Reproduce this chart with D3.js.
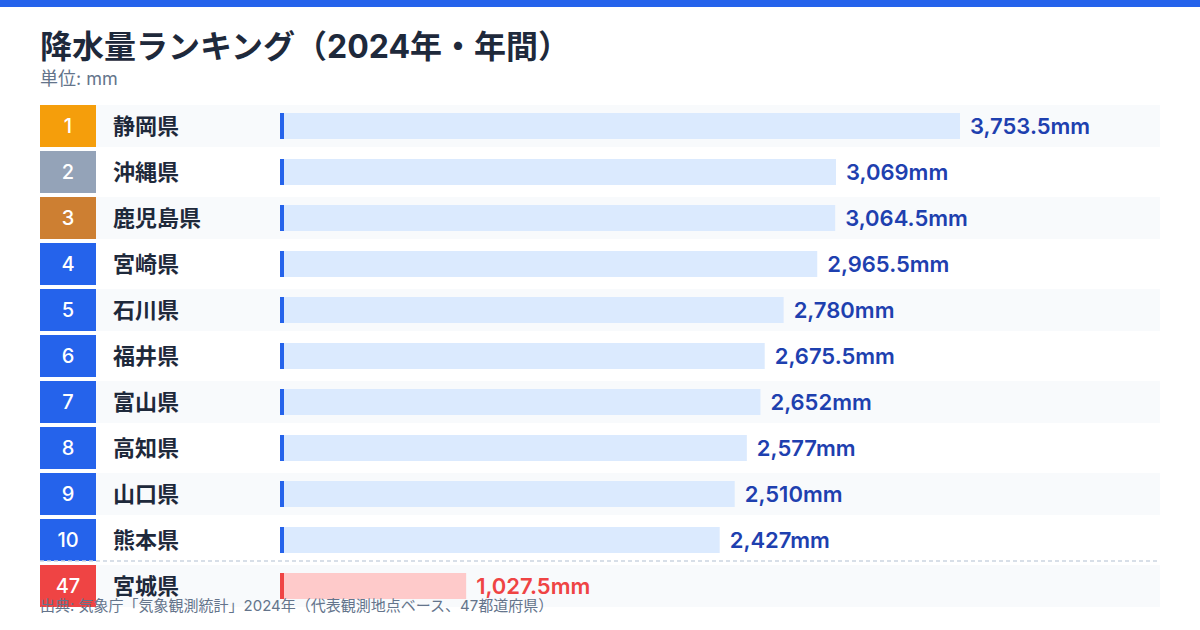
<!DOCTYPE html>
<html>
<head>
<meta charset="utf-8">
<script src="https://cdn.jsdelivr.net/npm/d3@7"></script>
<style>
  html, body { margin: 0; padding: 0; background: #fff; }
  svg { display: block; font-family: "Inter", "Noto Sans CJK JP", sans-serif; }
</style>
</head>
<body>
<svg width="1200" height="630"></svg>
<script>
// data
let ranks = ["1", "2", "3", "4", "5", "6", "7", "8", "9", "10", "47"];
let prefs = ["静岡県", "沖縄県", "鹿児島県", "宮崎県", "石川県", "福井県", "富山県", "高知県", "山口県", "熊本県", "宮城県"];
let values = [3753.5, 3069, 3064.5, 2965.5, 2780, 2675.5, 2652, 2577, 2510, 2427, 1027.5];
let rankColors = ["#f59e0b", "#94a3b8", "#cd7f32", "#2563eb", "#2563eb", "#2563eb", "#2563eb", "#2563eb", "#2563eb", "#2563eb", "#ef4444"];

let rows = ranks.map((r, i) => ({ rank: r, pref: prefs[i], value: values[i], color: rankColors[i], i: i }));

let svg = d3.select("svg");

svg.append("rect")
    .attr("x", 0).attr("y", 0)
    .attr("width", 1200).attr("height", 7)
    .style("fill", "#2563eb");

svg.append("text")
    .attr("x", 40).attr("y", 58)
    .text("降水量ランキング（2024年・年間）")
    .style("font-size", "32px")
    .style("font-weight", 700)
    .style("fill", "#1e293b");

svg.append("text")
    .attr("x", 40).attr("y", 85)
    .text("単位: mm")
    .style("font-size", "18px")
    .style("fill", "#64748b");

let y = d3.scaleBand()
    .domain(rows.map(d => d.i))
    .range([105, 607])
    .paddingInner(4 / 46);

let x = d3.scaleLinear()
    .domain([0, d3.max(values)])
    .range([280, 960]);

let row = svg.selectAll(".row")
    .data(rows)
    .join("g")
    .attr("class", "row")
    .attr("transform", d => "translate(0," + y(d.i) + ")");

let h = y.bandwidth();

row.append("rect")
    .attr("x", 40).attr("width", 1120)
    .attr("height", h)
    .style("fill", d => d.i % 2 == 0 ? "#f8fafc" : "#ffffff");

row.append("rect")
    .attr("x", 40).attr("width", 56)
    .attr("height", h)
    .style("fill", d => d.color);

row.append("text")
    .attr("x", 68).attr("y", h / 2)
    .attr("dy", "0.35em")
    .attr("text-anchor", "middle")
    .text(d => d.rank)
    .style("font-size", "20px")
    .style("font-weight", 500)
    .style("fill", "#fff");

row.append("text")
    .attr("x", 113).attr("y", h / 2)
    .attr("dy", "0.36em")
    .text(d => d.pref)
    .style("font-size", "22px")
    .style("font-weight", 700)
    .style("fill", "#1e293b");

let last = rows.length - 1;

row.append("rect")
    .attr("x", x(0))
    .attr("y", (h - 26) / 2)
    .attr("width", d => x(d.value) - x(0))
    .attr("height", 26)
    .style("fill", d => d.i == last ? "#fecaca" : "#dbeafe");

row.append("rect")
    .attr("x", x(0))
    .attr("y", (h - 26) / 2)
    .attr("width", 4)
    .attr("height", 26)
    .style("fill", d => d.i == last ? "#ef4444" : "#2563eb");

row.append("text")
    .attr("x", d => x(d.value) + 10)
    .attr("y", h / 2)
    .attr("dy", "0.35em")
    .text(d => d3.format(",")(d.value) + "mm")
    .style("font-size", "22px")
    .style("font-weight", 600)
    .style("fill", d => d.i == last ? "#ef4444" : "#1e40af");

// separator between top 10 and last
svg.append("line")
    .attr("x1", 40).attr("x2", 1160)
    .attr("y1", y(last) - 4).attr("y2", y(last) - 4)
    .style("stroke", "#cbd5e1")
    .style("stroke-width", 1.5)
    .style("stroke-dasharray", "4,3");

svg.append("text")
    .attr("x", 40).attr("y", 611)
    .text("出典: 気象庁「気象観測統計」2024年（代表観測地点ベース、47都道府県）")
    .style("font-size", "15px")
    .style("fill", "#64748b");
</script>
</body>
</html>
